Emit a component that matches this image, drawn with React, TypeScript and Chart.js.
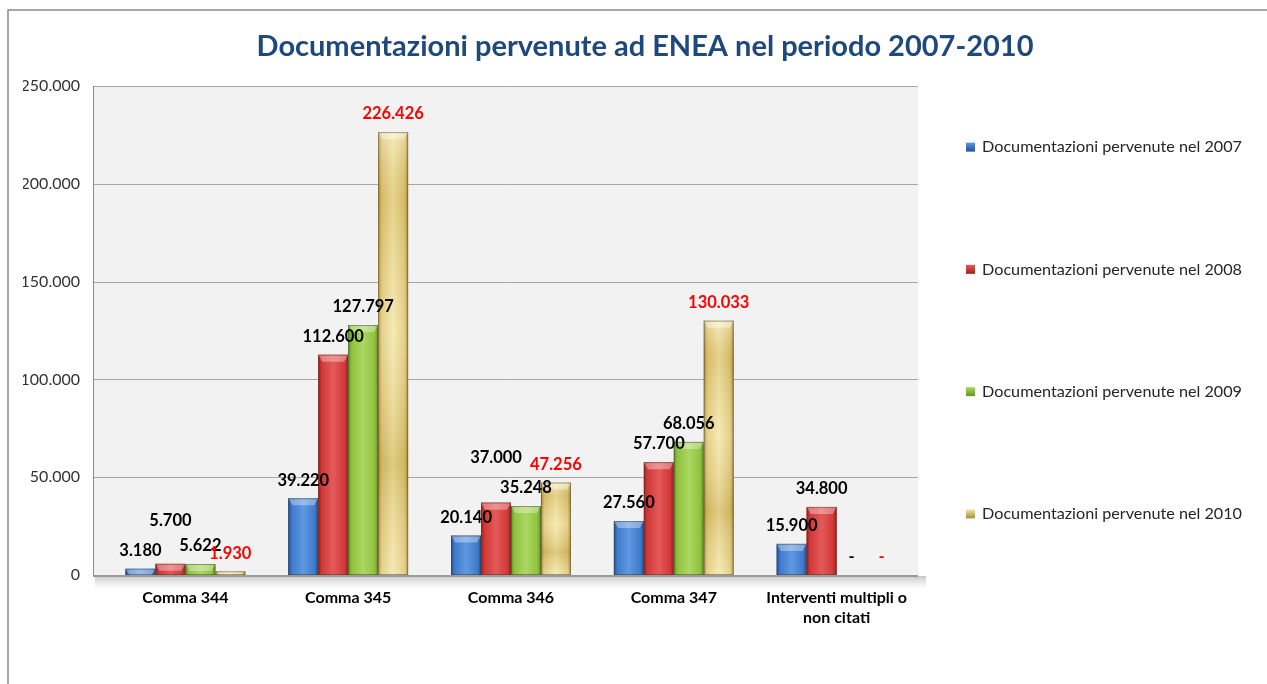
import { useEffect, useRef } from 'react';
import { Chart, registerables } from 'chart.js';

Chart.register(...registerables);

// ---------- data ----------
const categories: (string | string[])[] = [
  'Comma 344',
  'Comma 345',
  'Comma 346',
  'Comma 347',
  ['Interventi multipli o', 'non citati'],
];
const seriesNames = [
  'Documentazioni pervenute nel 2007',
  'Documentazioni pervenute nel 2008',
  'Documentazioni pervenute nel 2009',
  'Documentazioni pervenute nel 2010',
];
const values2007 = [3180, 39220, 20140, 27560, 15900];
const values2008 = [5700, 112600, 37000, 57700, 34800];
const values2009 = [5622, 127797, 35248, 68056, 0];
const values2010 = [1930, 226426, 47256, 130033, 0];
const yMax = 250000;
const yStep = 50000;
const titleText = 'Documentazioni pervenute ad ENEA nel periodo 2007-2010';

// ---------- styles ----------
const FONT = 'Lato, "Noto Sans", sans-serif';
const palettes = [
  { dark: '#245099', mid: '#3F7BCB', light: '#5F98E2' },
  { dark: '#9E2222', mid: '#D23838', light: '#E45A5A' },
  { dark: '#66912A', mid: '#8FC23E', light: '#ACD862' },
  { dark: '#A8893A', mid: '#E0C977', light: '#F4E6A8' },
];
const labelColors = ['#000000', '#000000', '#000000', '#FF0000'];
const WALL_OFFSET = 11;
const LABEL_GAP = 18;
const LABEL_H = 16;
const LABEL_LIFT = 30;

const fmt = (v: number) => String(v).replace(/\B(?=(\d{3})+(?!\d))/g, '.');
const fmtLabel = (v: number) => (v === 0 ? '-' : fmt(v));

const backgroundPlugin = {
  id: 'bgFrame',
  beforeDraw(chart: any) {
    const { ctx, chartArea, scales } = chart;
    const y = scales.y;
    const left = chartArea.left - WALL_OFFSET;
    ctx.save();
    ctx.fillStyle = '#FFFFFF';
    ctx.fillRect(0, 0, chart.width, chart.height);
    // outer frame
    ctx.strokeStyle = '#8A8A8A';
    ctx.lineWidth = 1.5;
    ctx.beginPath();
    ctx.moveTo(8, chart.height);
    ctx.lineTo(8, 10);
    ctx.lineTo(chart.width, 10);
    ctx.stroke();
    // plot wall
    ctx.fillStyle = '#F2F2F2';
    ctx.fillRect(left, chartArea.top, chartArea.right - left, chartArea.bottom - chartArea.top);
    // gridlines
    ctx.strokeStyle = '#A6A6A6';
    ctx.lineWidth = 1;
    y.ticks.forEach((t: any) => {
      const py = Math.round(y.getPixelForValue(t.value)) + 0.5;
      ctx.beginPath();
      ctx.moveTo(left, py);
      ctx.lineTo(chartArea.right, py);
      ctx.stroke();
    });
    // left axis line
    ctx.strokeStyle = '#8C8C8C';
    ctx.beginPath();
    ctx.moveTo(left + 0.5, chartArea.top);
    ctx.lineTo(left + 0.5, chartArea.bottom);
    ctx.stroke();
    // floor shadow
    const fy = y.getPixelForValue(0);
    const g = ctx.createLinearGradient(0, fy, 0, fy + 16);
    g.addColorStop(0, 'rgba(150,150,150,0.6)');
    g.addColorStop(1, 'rgba(225,225,225,0)');
    ctx.fillStyle = g;
    ctx.fillRect(left + 2, fy + 1, chartArea.right - left + 6, 15);
    ctx.strokeStyle = '#9A9A9A';
    ctx.lineWidth = 2;
    ctx.beginPath();
    ctx.moveTo(left, fy + 1);
    ctx.lineTo(chartArea.right, fy + 1);
    ctx.stroke();
    ctx.restore();
  },
};

const barsPlugin = {
  id: 'barsOverlay',
  afterDatasetsDraw(chart: any) {
    const { ctx } = chart;
    ctx.save();
    // bar shading
    chart.data.datasets.forEach((ds: any, i: number) => {
      const meta = chart.getDatasetMeta(i);
      const p = palettes[i];
      meta.data.forEach((el: any) => {
        const { x, y, base, width } = el.getProps(['x', 'y', 'base', 'width'], true);
        const l = x - width / 2;
        const r = x + width / 2;
        const h = base - y;
        if (h <= 0.5) return;
        const g = ctx.createLinearGradient(l, 0, r, 0);
        g.addColorStop(0, p.dark);
        g.addColorStop(0.12, p.mid);
        g.addColorStop(0.5, p.light);
        g.addColorStop(0.88, p.mid);
        g.addColorStop(1, p.dark);
        ctx.fillStyle = g;
        ctx.fillRect(l, y, width, h);
        if (i === 3 && h > 40) {
          const vg = ctx.createLinearGradient(0, y, 0, base);
          vg.addColorStop(0, 'rgba(255,255,255,0.3)');
          vg.addColorStop(0.15, 'rgba(160,120,20,0.18)');
          vg.addColorStop(0.45, 'rgba(255,255,255,0.15)');
          vg.addColorStop(0.75, 'rgba(160,120,20,0.25)');
          vg.addColorStop(1, 'rgba(255,255,255,0.15)');
          ctx.fillStyle = vg;
          ctx.fillRect(l, y, width, h);
        }
        const cap = Math.min(7, h);
        ctx.fillStyle = 'rgba(255,255,255,0.35)';
        ctx.beginPath();
        ctx.moveTo(l, y);
        ctx.lineTo(r, y);
        ctx.lineTo(r - 4, y + cap);
        ctx.lineTo(l + 4, y + cap);
        ctx.closePath();
        ctx.fill();
        ctx.strokeStyle = 'rgba(60,60,40,0.45)';
        ctx.lineWidth = 1;
        ctx.strokeRect(l + 0.5, y + 0.5, width - 1, h - 1);
      });
    });
    // data labels with simple collision avoidance
    ctx.font = `bold 16.5px ${FONT}`;
    ctx.textAlign = 'center';
    ctx.textBaseline = 'middle';
    const n = chart.data.datasets.length;
    const overlap = (a: any, b: any) =>
      Math.abs(a.x - b.x) < (a.w + b.w) / 2 && Math.abs(a.y - b.y) < (a.h + b.h) / 2;
    categories.forEach((_c, j) => {
      const items: any[] = [];
      for (let i = 0; i < n; i++) {
        const el = chart.getDatasetMeta(i).data[j];
        const v = chart.data.datasets[i].data[j];
        const text = fmtLabel(v);
        items.push({ x: el.x, y: el.y - LABEL_GAP, w: ctx.measureText(text).width, h: LABEL_H, v, text, color: labelColors[i] });
      }
      for (let k = 0; k < n - 1; k++) {
        const a = items[k];
        const b = items[k + 1];
        if (!overlap(a, b)) continue;
        const taller = a.v >= b.v ? a : b;
        const other = taller === a ? b : a;
        const cand = { ...taller, y: other.y - LABEL_LIFT };
        if (!items.some((o) => o !== taller && overlap(cand, o))) taller.y = cand.y;
      }
      items.forEach((it) => {
        ctx.fillStyle = it.color;
        ctx.fillText(it.text, it.x, it.y);
      });
    });
    ctx.restore();
  },
};

const legendPlugin = {
  id: 'sideLegend',
  afterDraw(chart: any) {
    const { ctx, chartArea } = chart;
    const n = chart.data.datasets.length;
    const slot = (chartArea.bottom - chartArea.top) / n;
    ctx.save();
    ctx.font = `16.2px ${FONT}`;
    ctx.textAlign = 'left';
    ctx.textBaseline = 'middle';
    chart.data.datasets.forEach((ds: any, i: number) => {
      const cy = chartArea.top + slot * (i + 0.5);
      const mx = chartArea.right + 48;
      const p = palettes[i];
      const g = ctx.createLinearGradient(0, cy - 4.5, 0, cy + 4.5);
      g.addColorStop(0, p.light);
      g.addColorStop(1, p.dark);
      ctx.fillStyle = g;
      ctx.fillRect(mx, cy - 4.5, 9, 9);
      ctx.fillStyle = '#262626';
      ctx.fillText(ds.label, mx + 16, cy);
    });
    ctx.restore();
  },
};

export default function App() {
  const ref = useRef<HTMLCanvasElement | null>(null);
  useEffect(() => {
    if (!ref.current) return;
    Chart.defaults.font.family = FONT;
    const seriesValues = [values2007, values2008, values2009, values2010];
    const chart = new Chart(ref.current, {
      type: 'bar',
      data: {
        labels: categories,
        datasets: seriesValues.map((vals, i) => ({
          label: seriesNames[i],
          data: vals,
          backgroundColor: palettes[i].mid,
          borderWidth: 0,
          categoryPercentage: 0.736,
          barPercentage: 1,
        })),
      },
      options: {
        responsive: false,
        animation: false,
        events: [],
        layout: { padding: { left: 23, right: 0, top: 0, bottom: 0 } },
        plugins: {
          legend: { display: false },
          tooltip: { enabled: false },
          title: {
            display: true,
            text: titleText,
            color: '#1F487C',
            font: { family: FONT, size: 29, weight: 'bold', lineHeight: 1.2 },
            padding: { top: 29.6, bottom: 21.6 },
          },
        },
        scales: {
          x: {
            grid: { display: false, drawTicks: false },
            border: { display: false },
            ticks: {
              color: '#000000',
              font: { family: FONT, size: 16, weight: 'bold', lineHeight: 1.3 },
              padding: 12,
              maxRotation: 0,
              autoSkip: false,
            },
            afterFit: (s: any) => {
              s.height = 109;
            },
          },
          y: {
            min: 0,
            max: yMax,
            grid: { display: false, drawTicks: false },
            border: { display: false },
            ticks: {
              stepSize: yStep,
              color: '#333333',
              font: { family: FONT, size: 16 },
              padding: 24,
              callback: (v: any) => fmt(Number(v)),
            },
            afterFit: (s: any) => {
              s.width = 81;
            },
          },
          legendSpace: {
            type: 'linear',
            position: 'right',
            display: true,
            grid: { display: false, drawTicks: false },
            border: { display: false },
            ticks: { display: false },
            afterFit: (s: any) => {
              s.width = 349;
            },
          },
        },
      } as any,
      plugins: [backgroundPlugin, barsPlugin, legendPlugin],
    });
    return () => chart.destroy();
  }, []);
  return (
    <div style={{ position: 'absolute', left: 0, top: 0, width: 1267, height: 684, background: '#fff' }}>
      <canvas ref={ref} width={1267} height={684} style={{ display: 'block' }} />
    </div>
  );
}
